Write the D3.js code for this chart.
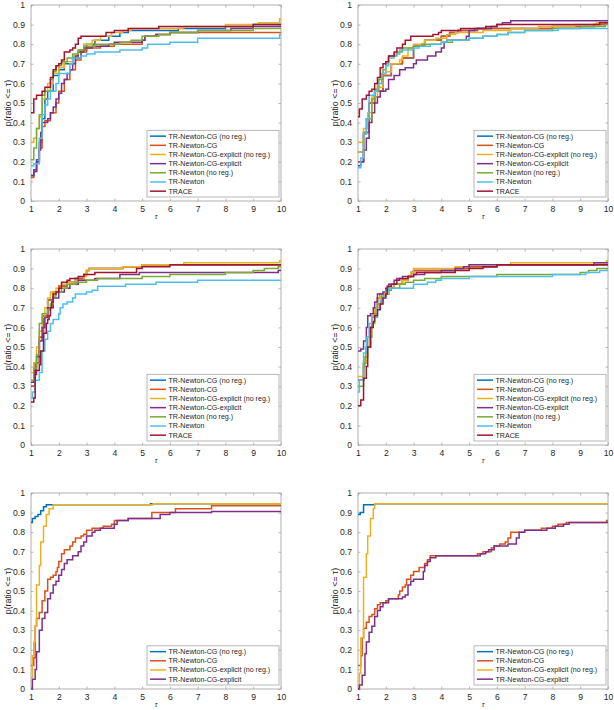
<!DOCTYPE html>
<html><head><meta charset="utf-8">
<script src="https://cdn.jsdelivr.net/npm/d3@7"></script>
<style>body{margin:0;background:#fff}svg{display:block}</style>
</head><body>
<script>
// ---------- shared labels / styles ----------
const seriesNames = ["TR-Newton-CG (no reg.)","TR-Newton-CG","TR-Newton-CG-explicit (no reg.)","TR-Newton-CG-explicit","TR-Newton (no reg.)","TR-Newton","TRACE"];
const seriesColors = ["#0072BD","#D95319","#EDB120","#7E2F8E","#77AC30","#4DBEEE","#A2142F"];
const xTicks = [1,2,3,4,5,6,7,8,9,10];
const yTicks = [0,0.1,0.2,0.3,0.4,0.5,0.6,0.7,0.8,0.9,1];

// ---------- panel 1 (top-left) : [tau, p] step points ----------
const p1Blue   = [[1,0.13],[1.1,0.16],[1.2,0.21],[1.3,0.3],[1.4,0.42],[1.5,0.52],[1.6,0.56],[1.8,0.64],[2,0.67],[2.2,0.7],[2.5,0.73],[2.8,0.77],[3,0.8],[3.3,0.82],[3.8,0.84],[4.2,0.86],[4.5,0.87],[6.3,0.88],[8,0.89],[9,0.9]];
const p1Orange = [[1,0.12],[1.1,0.15],[1.2,0.2],[1.3,0.27],[1.4,0.38],[1.5,0.41],[1.7,0.45],[1.9,0.5],[2,0.56],[2.2,0.62],[2.4,0.67],[2.6,0.72],[2.8,0.76],[3,0.78],[3.5,0.79],[4,0.8],[5,0.82],[5.1,0.84],[5.5,0.85],[6,0.86]];
const p1Yellow = [[1,0.3],[1.1,0.32],[1.2,0.37],[1.3,0.43],[1.4,0.52],[1.5,0.56],[1.6,0.6],[1.8,0.65],[2,0.68],[2.2,0.71],[2.5,0.74],[2.7,0.77],[2.9,0.8],[3.2,0.82],[3.5,0.84],[3.9,0.86],[4.3,0.87],[4.6,0.88],[6.5,0.89],[8,0.9],[9.2,0.91],[9.95,0.93]];
const p1Purple = [[1,0.13],[1.1,0.15],[1.2,0.2],[1.3,0.26],[1.35,0.35],[1.4,0.4],[1.6,0.42],[1.7,0.45],[1.8,0.48],[1.9,0.52],[2,0.55],[2.1,0.6],[2.2,0.62],[2.3,0.65],[2.4,0.67],[2.5,0.7],[2.6,0.74],[2.7,0.76],[2.9,0.78],[3.2,0.79],[3.8,0.8],[4,0.81],[5,0.82],[5.1,0.84],[5.5,0.85],[6,0.86],[7,0.87],[8.2,0.88],[9,0.89]];
const p1Green  = [[1,0.21],[1.1,0.27],[1.2,0.37],[1.3,0.44],[1.4,0.54],[1.5,0.56],[1.7,0.62],[1.8,0.66],[1.9,0.69],[2.1,0.71],[2.3,0.73],[2.5,0.75],[2.7,0.77],[2.9,0.79],[3.3,0.8],[4.2,0.81],[4.6,0.82],[5,0.84],[5.6,0.85],[6,0.86],[7,0.87],[9,0.88]];
const p1Light  = [[1,0.18],[1.1,0.19],[1.3,0.32],[1.4,0.44],[1.5,0.49],[1.6,0.52],[1.7,0.56],[1.9,0.6],[2,0.65],[2.4,0.7],[2.5,0.73],[2.8,0.74],[3,0.75],[3.3,0.76],[4.2,0.77],[5,0.78],[5.2,0.8],[6,0.81],[7,0.83],[9.95,0.85]];
const p1Trace  = [[1,0.45],[1.1,0.52],[1.2,0.54],[1.4,0.56],[1.5,0.58],[1.7,0.63],[1.8,0.67],[1.9,0.69],[2,0.7],[2.1,0.72],[2.2,0.76],[2.4,0.77],[2.5,0.78],[2.6,0.8],[2.7,0.83],[2.8,0.84],[3.7,0.86],[4,0.87],[4.5,0.88],[5.6,0.89],[9,0.9]];

// ---------- panel 2 (top-right) ----------
const p2Blue   = [[1,0.2],[1.2,0.35],[1.4,0.5],[1.6,0.56],[1.9,0.64],[2.2,0.7],[2.6,0.73],[3,0.79],[3.4,0.82],[4,0.84],[4.3,0.86],[4.6,0.87],[5.3,0.88],[8,0.89],[9.5,0.9],[9.9,0.91]];
const p2Orange = [[1,0.2],[1.2,0.35],[1.4,0.5],[1.6,0.56],[1.9,0.64],[2.2,0.7],[2.6,0.73],[3,0.79],[3.4,0.82],[4,0.84],[4.3,0.86],[4.6,0.87],[5.3,0.88],[8,0.89],[9.5,0.9],[9.9,0.91]];
const p2Yellow = [[1,0.3],[1.2,0.37],[1.35,0.45],[1.5,0.53],[1.7,0.58],[1.9,0.65],[2,0.66],[2.2,0.7],[2.5,0.72],[2.6,0.74],[2.8,0.78],[3,0.8],[3.4,0.82],[3.8,0.83],[4.2,0.85],[4.5,0.86],[5.5,0.87],[6.5,0.88],[7.5,0.89],[8.8,0.9],[9.6,0.91]];
const p2Purple = [[1,0.18],[1.1,0.2],[1.2,0.26],[1.3,0.32],[1.4,0.4],[1.5,0.45],[1.6,0.5],[1.7,0.53],[1.8,0.56],[2,0.57],[2.1,0.62],[2.3,0.64],[2.5,0.67],[2.7,0.68],[3,0.7],[3.1,0.72],[3.5,0.74],[3.8,0.76],[4,0.78],[4.1,0.81],[4.2,0.82],[4.9,0.84],[5,0.87],[5.2,0.88],[5.8,0.89],[6,0.9],[6.2,0.91],[6.5,0.92]];
const p2Green  = [[1,0.25],[1.2,0.34],[1.3,0.42],[1.5,0.52],[1.6,0.57],[1.75,0.62],[1.9,0.67],[2,0.7],[2.1,0.74],[2.4,0.76],[2.6,0.78],[3,0.79],[3.3,0.8],[4,0.81],[4.4,0.82],[5,0.83],[5.5,0.84],[6,0.85],[6.4,0.86],[7,0.87],[8,0.88],[9,0.89],[9.9,0.9]];
const p2Light  = [[1,0.17],[1.1,0.22],[1.2,0.34],[1.3,0.42],[1.4,0.54],[1.6,0.56],[1.7,0.6],[1.85,0.65],[2,0.69],[2.1,0.73],[2.3,0.75],[2.5,0.77],[3,0.78],[3.2,0.79],[3.6,0.8],[4,0.81],[4.2,0.82],[5,0.83],[5.5,0.84],[6,0.85],[6.4,0.86],[7,0.87],[8.2,0.88]];
const p2Trace  = [[1,0.43],[1.05,0.47],[1.15,0.52],[1.3,0.54],[1.4,0.56],[1.5,0.57],[1.6,0.6],[1.7,0.63],[1.8,0.68],[1.9,0.7],[2,0.71],[2.1,0.74],[2.3,0.76],[2.4,0.78],[2.6,0.8],[2.7,0.82],[2.9,0.84],[3.7,0.85],[3.9,0.86],[4,0.87],[4.7,0.88],[5.6,0.89],[6,0.9],[9.7,0.91]];

// ---------- panel 3 (middle-left) ----------
const p3Blue   = [[1,0.3],[1.15,0.42],[1.3,0.55],[1.45,0.66],[1.6,0.74],[1.8,0.78],[2,0.81],[2.3,0.83],[2.6,0.85],[2.9,0.87],[3,0.89],[3.1,0.9],[4.3,0.91],[5,0.92]];
const p3Orange = [[1,0.3],[1.15,0.42],[1.3,0.55],[1.45,0.66],[1.6,0.74],[1.8,0.78],[2,0.81],[2.3,0.83],[2.6,0.85],[2.9,0.87],[3,0.89],[3.1,0.9],[4.3,0.91],[5,0.92]];
const p3Yellow = [[1,0.37],[1.1,0.42],[1.2,0.5],[1.3,0.58],[1.4,0.65],[1.5,0.7],[1.6,0.75],[1.7,0.78],[1.9,0.8],[2.1,0.82],[2.3,0.83],[2.6,0.84],[2.9,0.86],[3,0.89],[3.1,0.9],[4.3,0.91],[5,0.92],[6.5,0.93],[9.95,0.94]];
const p3Purple = [[1,0.32],[1.1,0.36],[1.2,0.45],[1.3,0.53],[1.4,0.6],[1.5,0.65],[1.6,0.7],[1.8,0.75],[2,0.78],[2.2,0.8],[2.4,0.82],[2.7,0.84],[3.3,0.85],[4.2,0.87],[4.9,0.88],[9.9,0.89]];
const p3Green  = [[1,0.33],[1.1,0.39],[1.2,0.46],[1.3,0.62],[1.4,0.67],[1.6,0.69],[1.7,0.72],[1.8,0.76],[1.9,0.78],[2.1,0.8],[2.3,0.82],[2.6,0.83],[3,0.84],[3.4,0.85],[5,0.86],[6,0.87],[8,0.88],[9,0.89],[9.4,0.9],[9.9,0.91]];
const p3Light  = [[1,0.24],[1.05,0.27],[1.15,0.33],[1.3,0.37],[1.4,0.48],[1.5,0.54],[1.6,0.58],[1.7,0.62],[1.8,0.64],[2,0.67],[2.05,0.7],[2.15,0.72],[2.3,0.73],[2.5,0.75],[2.6,0.77],[3,0.78],[3.2,0.79],[3.4,0.81],[4.4,0.82],[5.5,0.83],[7,0.84]];
const p3Trace  = [[1,0.22],[1.1,0.24],[1.15,0.38],[1.3,0.41],[1.35,0.48],[1.45,0.57],[1.55,0.62],[1.6,0.64],[1.65,0.66],[1.7,0.7],[1.75,0.73],[1.8,0.77],[1.9,0.78],[2,0.8],[2.1,0.83],[2.3,0.84],[2.4,0.85],[2.7,0.86],[2.9,0.87],[3.3,0.88],[4.8,0.9],[5,0.91],[6,0.92]];

// ---------- panel 4 (middle-right) ----------
const p4Blue   = [[1,0.33],[1.2,0.42],[1.3,0.5],[1.45,0.6],[1.5,0.66],[1.6,0.7],[1.7,0.75],[1.8,0.77],[2.1,0.8],[2.3,0.82],[2.6,0.84],[2.8,0.86],[2.9,0.88],[3,0.89],[4.5,0.9],[5,0.91],[6,0.92]];
const p4Orange = [[1,0.33],[1.2,0.42],[1.3,0.5],[1.45,0.6],[1.5,0.66],[1.6,0.7],[1.7,0.75],[1.8,0.77],[2.1,0.8],[2.3,0.82],[2.6,0.84],[2.8,0.86],[2.9,0.88],[3,0.89],[4.5,0.9],[5,0.91],[6,0.92]];
const p4Yellow = [[1,0.35],[1.2,0.42],[1.3,0.5],[1.45,0.6],[1.5,0.66],[1.6,0.7],[1.7,0.75],[1.8,0.77],[2.1,0.8],[2.3,0.82],[2.6,0.84],[2.8,0.86],[2.9,0.88],[3,0.9],[4.5,0.91],[5,0.92],[6.5,0.93],[9.95,0.94]];
const p4Purple = [[1,0.48],[1.1,0.49],[1.2,0.53],[1.3,0.6],[1.35,0.66],[1.45,0.67],[1.55,0.7],[1.6,0.73],[1.7,0.77],[1.9,0.78],[2,0.8],[2.1,0.82],[2.3,0.84],[2.4,0.85],[2.6,0.86],[3,0.87],[3.4,0.88],[4,0.89],[4.5,0.9],[4.8,0.91],[5,0.92],[9.5,0.93]];
const p4Green  = [[1,0.3],[1.2,0.4],[1.25,0.45],[1.35,0.55],[1.5,0.62],[1.6,0.67],[1.7,0.72],[1.85,0.76],[2,0.79],[2.2,0.8],[2.5,0.82],[2.7,0.83],[3,0.84],[3.4,0.85],[4,0.86],[6,0.87],[9,0.88],[9.3,0.89],[9.6,0.9]];
const p4Light  = [[1,0.27],[1.05,0.33],[1.2,0.47],[1.3,0.55],[1.4,0.62],[1.5,0.65],[1.7,0.7],[1.8,0.74],[1.9,0.76],[2,0.78],[2.1,0.8],[3,0.82],[3.5,0.83],[3.8,0.84],[4,0.85],[5,0.86],[8,0.87],[9.2,0.88],[9.7,0.89]];
const p4Trace  = [[1,0.2],[1.1,0.23],[1.2,0.34],[1.3,0.4],[1.35,0.5],[1.45,0.6],[1.55,0.63],[1.6,0.66],[1.7,0.69],[1.8,0.72],[1.9,0.75],[2,0.77],[2.05,0.81],[2.2,0.82],[2.4,0.84],[2.5,0.85],[2.8,0.86],[3,0.87],[3.1,0.88],[4.5,0.89],[5,0.9],[5.5,0.91],[6,0.92]];

// ---------- panel 5 (bottom-left) ----------
const p5Blue   = [[1,0.85],[1.05,0.87],[1.15,0.88],[1.25,0.89],[1.35,0.91],[1.45,0.93],[1.55,0.94],[5.3,0.945]];
const p5Orange = [[1,0.12],[1.1,0.16],[1.15,0.32],[1.2,0.36],[1.3,0.39],[1.4,0.45],[1.5,0.5],[1.6,0.56],[1.7,0.57],[1.8,0.58],[1.9,0.6],[1.95,0.62],[2,0.65],[2.1,0.69],[2.2,0.71],[2.4,0.73],[2.5,0.75],[2.6,0.77],[2.8,0.78],[2.9,0.79],[3,0.81],[3.2,0.82],[3.6,0.83],[3.9,0.84],[4,0.86],[4.5,0.87],[5.35,0.9],[6.2,0.92],[7.5,0.935]];
const p5Yellow = [[1,0.06],[1.05,0.17],[1.1,0.24],[1.15,0.32],[1.2,0.53],[1.3,0.63],[1.35,0.75],[1.45,0.83],[1.55,0.89],[1.65,0.92],[1.8,0.94],[5.4,0.945]];
const p5Purple = [[1,0],[1.05,0.05],[1.15,0.1],[1.2,0.19],[1.3,0.3],[1.4,0.36],[1.5,0.39],[1.6,0.46],[1.7,0.49],[1.8,0.53],[1.9,0.55],[2,0.58],[2.1,0.61],[2.2,0.64],[2.3,0.66],[2.5,0.68],[2.7,0.7],[2.8,0.73],[2.9,0.75],[3,0.78],[3.2,0.8],[3.3,0.81],[3.5,0.82],[4,0.84],[4.1,0.86],[4.5,0.87],[5.65,0.89],[6,0.9],[7.5,0.905]];

// ---------- panel 6 (bottom-right) ----------
const p6Blue   = [[1,0.89],[1.08,0.9],[1.2,0.94],[1.6,0.945]];
const p6Orange = [[1,0.12],[1.1,0.17],[1.15,0.26],[1.2,0.31],[1.3,0.34],[1.4,0.37],[1.5,0.38],[1.6,0.41],[1.7,0.43],[1.8,0.44],[2,0.45],[2.1,0.46],[2.45,0.48],[2.5,0.5],[2.6,0.52],[2.7,0.53],[2.75,0.56],[2.9,0.58],[3,0.6],[3.2,0.62],[3.4,0.64],[3.5,0.66],[3.6,0.68],[5.3,0.69],[5.5,0.7],[5.8,0.72],[5.9,0.73],[6.1,0.74],[6.3,0.75],[6.4,0.77],[6.5,0.8],[7,0.81],[7.6,0.82],[8,0.83],[8.2,0.84],[8.5,0.85],[9.95,0.86]];
const p6Yellow = [[1,0],[1.05,0.08],[1.1,0.26],[1.2,0.57],[1.3,0.69],[1.35,0.78],[1.45,0.87],[1.55,0.92],[1.6,0.945]];
const p6Purple = [[1,0],[1.05,0.02],[1.15,0.07],[1.25,0.18],[1.3,0.24],[1.4,0.29],[1.5,0.32],[1.6,0.37],[1.7,0.4],[1.8,0.42],[1.9,0.44],[2.1,0.46],[2.6,0.47],[2.7,0.48],[2.8,0.53],[2.9,0.55],[3,0.56],[3.35,0.6],[3.4,0.63],[3.5,0.65],[3.6,0.67],[3.8,0.68],[5.4,0.69],[5.6,0.7],[5.7,0.71],[5.9,0.73],[6.4,0.74],[6.7,0.77],[6.8,0.8],[7,0.81],[7.8,0.82],[8.1,0.83],[8.4,0.84],[8.6,0.85]];

const panel1 = [p1Blue,p1Orange,p1Yellow,p1Purple,p1Green,p1Light,p1Trace];
const panel2 = [p2Blue,p2Orange,p2Yellow,p2Purple,p2Green,p2Light,p2Trace];
const panel3 = [p3Blue,p3Orange,p3Yellow,p3Purple,p3Green,p3Light,p3Trace];
const panel4 = [p4Blue,p4Orange,p4Yellow,p4Purple,p4Green,p4Light,p4Trace];
const panel5 = [p5Blue,p5Orange,p5Yellow,p5Purple];
const panel6 = [p6Blue,p6Orange,p6Yellow,p6Purple];

// ---------- drawing ----------
const W = 614, H = 710;
const svg = d3.select("body").append("svg").attr("width", W).attr("height", H);
const font = "'Liberation Sans', Arial, Helvetica, sans-serif";
const axisCol = "#262626";
const frameCol = "#a6a6a6";

const colX = [31, 358], rowY = [5, 249, 493];
const pw = 250, ph = 196;
const panels = [
  {data: panel1, c: 0, r: 0}, {data: panel2, c: 1, r: 0},
  {data: panel3, c: 0, r: 1}, {data: panel4, c: 1, r: 1},
  {data: panel5, c: 0, r: 2}, {data: panel6, c: 1, r: 2}
];

panels.forEach((P, i) => {
  const x0 = colX[P.c], y0 = rowY[P.r];
  const g = svg.append("g").attr("transform", `translate(${x0},${y0})`);
  const x = d3.scaleLinear().domain([1, 10]).range([0, pw]);
  const y = d3.scaleLinear().domain([0, 1]).range([ph, 0]);

  const clipId = "clip" + i;
  g.append("clipPath").attr("id", clipId).append("rect")
    .attr("x", -1).attr("y", -1).attr("width", pw + 2).attr("height", ph + 2);

  const styleAxis = (sel, showText) => {
    sel.select(".domain").remove();
    sel.selectAll(".tick line").attr("stroke", frameCol).attr("stroke-width", 0.8);
    sel.selectAll(".tick text").attr("fill", axisCol).style("font-family", font).style("font-size", "8.6px")
      .style("display", showText ? null : "none");
  };
  const fmt = d => d === 0 ? "0" : (d === 1 ? "1" : d3.format(".1f")(d));
  g.append("g").attr("transform", `translate(0,${ph})`)
    .call(d3.axisBottom(x).tickValues(xTicks).tickSizeInner(-2.5).tickSizeOuter(0).tickPadding(5).tickFormat(d3.format("d")))
    .call(s => styleAxis(s, true));
  g.append("g")
    .call(d3.axisTop(x).tickValues(xTicks).tickSizeInner(-2.5).tickSizeOuter(0))
    .call(s => styleAxis(s, false));
  g.append("g")
    .call(d3.axisLeft(y).tickValues(yTicks).tickSizeInner(-2.5).tickSizeOuter(0).tickPadding(6).tickFormat(fmt))
    .call(s => styleAxis(s, true));
  g.append("g").attr("transform", `translate(${pw},0)`)
    .call(d3.axisRight(y).tickValues(yTicks).tickSizeInner(-2.5).tickSizeOuter(0))
    .call(s => styleAxis(s, false));
  g.append("rect").attr("x", 0).attr("y", 0).attr("width", pw).attr("height", ph)
    .attr("fill", "none").attr("stroke", frameCol).attr("stroke-width", 0.9);

  const line = d3.line().x(d => x(d[0])).y(d => y(d[1])).curve(d3.curveStepAfter);
  const lg = g.append("g").attr("clip-path", `url(#${clipId})`);
  P.data.forEach((s, k) => {
    const pts = s.concat([[x.domain()[1], s[s.length - 1][1]]]);
    lg.append("path").attr("d", line(pts)).attr("fill", "none")
      .attr("stroke", seriesColors[k]).attr("stroke-width", 1.5);
  });

  g.append("text").attr("transform", `translate(${-20},${ph / 2}) rotate(-90)`)
    .attr("text-anchor", "middle").attr("fill", axisCol)
    .style("font-family", font).style("font-size", "8.8px")
    .text("p(ratio <= τ)");
  g.append("text").attr("x", pw / 2).attr("y", ph + 17.5)
    .attr("text-anchor", "middle").attr("fill", axisCol)
    .style("font-family", font).style("font-size", "7px").style("font-style", "italic")
    .text("τ");

  const n = P.data.length;
  const rowH = 9.17;
  const lw = 132, lh = n * rowH + 2.5;
  const lx = pw - 2 - lw, ly = ph - 4 - lh;
  const leg = g.append("g").attr("transform", `translate(${lx},${ly})`);
  leg.append("rect").attr("width", lw).attr("height", lh).attr("fill", "#fff")
    .attr("stroke", frameCol).attr("stroke-width", 0.8);
  for (let k = 0; k < n; k++) {
    const cy = 1.25 + rowH * (k + 0.5);
    leg.append("line").attr("x1", 3).attr("x2", 19).attr("y1", cy).attr("y2", cy)
      .attr("stroke", seriesColors[k]).attr("stroke-width", 1.5);
    leg.append("text").attr("x", 21.5).attr("y", cy).attr("dy", "0.35em")
      .attr("fill", axisCol).style("font-family", font).style("font-size", "7.1px")
      .text(seriesNames[k]);
  }
});
</script>
</body></html>
